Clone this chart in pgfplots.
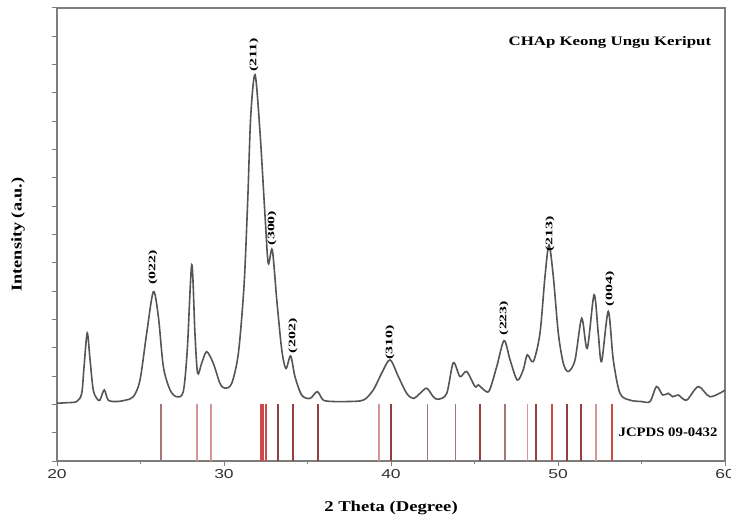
\documentclass[border=0pt]{standalone}
\usepackage{fontspec}
\setmainfont{Liberation Serif}
\newfontfamily\sansf{Liberation Sans}
\usepackage{graphicx}
\usepackage{pgfplots}
\pgfplotsset{compat=1.18}

\definecolor{axgray}{RGB}{125,125,125}
\definecolor{curvec}{RGB}{85,85,85}
\definecolor{dr}{RGB}{150,62,62}
\definecolor{rr}{RGB}{205,72,72}
\definecolor{lp}{RGB}{215,150,150}
\definecolor{gb}{RGB}{165,120,120}

\newcommand{\pk}[1]{\scalebox{1.6}[1]{\fontsize{10}{10}\selectfont\bfseries #1}}
\newcommand{\tl}[1]{\scalebox{1.35}[1]{#1}}

\begin{document}
\begin{tikzpicture}
\useasboundingbox (-57bp,-62bp) rectangle (674bp,461bp);
\begin{axis}[
  scale only axis, width=668bp, height=453bp,
  xmin=20, xmax=60, ymin=0, ymax=16,
  axis line style={axgray, line width=1.3bp},
  xtick={20,30,40,50,60},
  xticklabels={\tl{20},\tl{30},\tl{40},\tl{50},\tl{60}},
  minor xtick={25,35,45,55},
  ytick={0,1,...,16}, yticklabels={},
  tick align=outside, tick pos=left,
  major tick length=5bp, minor tick length=3bp,
  every tick/.style={axgray, line width=1bp},
  xticklabel style={font=\sansf\fontsize{13}{13}\selectfont, text=black!80},
  clip=false,
]
\addplot[curvec, line width=1.6bp, smooth, tension=0.5] coordinates {
(20,2.04) (20.6,2.06) (21.18,2.10) (21.48,2.39) (21.62,3.33) (21.81,4.52)
(21.98,3.57) (22.17,2.51) (22.4,2.2) (22.57,2.15) (22.83,2.51) (23.07,2.15)
(23.57,2.10) (24.1,2.15) (24.57,2.27) (24.97,2.86) (25.37,4.51) (25.77,5.98)
(26.07,5.10) (26.37,3.33) (26.77,2.51) (27.17,2.27) (27.56,2.45) (27.8,3.92)
(28.07,6.93) (28.26,4.51) (28.42,3.1) (28.66,3.45) (28.96,3.86) (29.36,3.45)
(29.76,2.74) (30.06,2.57) (30.46,2.74) (30.86,3.80) (31.2,6.2) (31.42,9.2)
(31.6,12.17) (31.86,13.64) (32.16,11.58) (32.46,8.63) (32.65,6.98) (32.89,7.46)
(33.16,5.69) (33.46,3.92) (33.71,3.27) (33.99,3.71) (34.25,2.98) (34.65,2.33)
(35.15,2.21) (35.59,2.45) (35.95,2.15) (36.6,2.1) (37.35,2.10) (38.34,2.15)
(38.94,2.51) (39.44,3.10) (39.94,3.57) (40.44,2.98) (40.94,2.39) (41.34,2.21)
(41.74,2.39) (42.14,2.57) (42.53,2.27) (42.83,2.18) (43.34,2.39) (43.73,3.47)
(44.13,2.98) (44.53,3.16) (45.03,2.63) (45.23,2.69) (45.63,2.48) (45.9,2.5)
(46.33,3.33) (46.77,4.25) (47.13,3.57) (47.56,2.86) (47.92,3.22) (48.16,3.75)
(48.52,3.51) (48.92,4.51) (49.22,6.51) (49.46,7.63) (49.72,6.51) (50.02,4.51)
(50.32,3.45) (50.62,3.16) (51.02,3.57) (51.42,5.04) (51.75,3.98) (52.16,5.87)
(52.41,4.51) (52.61,3.51) (53.01,5.28) (53.31,3.57) (53.71,2.39) (54.31,2.15)
(55.0,2.1) (55.51,2.10) (55.9,2.63) (56.27,2.33) (56.6,2.39) (56.87,2.27)
(57.2,2.33) (57.7,2.15) (58.4,2.63) (59.1,2.27) (60,2.50)
};
\addplot[ycomb, gb, line width=1.7bp] coordinates {(26.21,2) (42.18,2) (43.87,2) (46.83,2)};
\addplot[ycomb, lp, line width=1.7bp] coordinates {(28.37,2) (29.22,2) (39.30,2) (48.17,2) (52.26,2)};
\addplot[ycomb, rr, line width=1.9bp] coordinates {(32.22,2) (32.36,2) (32.50,2) (49.62,2) (53.22,2)};
\addplot[ycomb, dr, line width=1.8bp] coordinates {(33.25,2) (34.15,2) (35.61,2) (40.00,2) (45.33,2) (48.68,2) (50.56,2) (51.36,2)};

\node[rotate=90] at (axis cs:25.75,6.85) {\pk{(022)}};
\node[rotate=90] at (axis cs:31.80,14.34) {\pk{(211)}};
\node[rotate=90] at (axis cs:32.87,8.23) {\pk{(300)}};
\node[rotate=90] at (axis cs:34.13,4.42) {\pk{(202)}};
\node[rotate=90] at (axis cs:39.94,4.20) {\pk{(310)}};
\node[rotate=90] at (axis cs:46.77,5.05) {\pk{(223)}};
\node[rotate=90] at (axis cs:49.52,8.02) {\pk{(213)}};
\node[rotate=90] at (axis cs:53.11,6.08) {\pk{(004)}};

\node at (axis cs:53.11,14.77) {\scalebox{1.3}[1]{\fontsize{13}{13}\selectfont\bfseries CHAp Keong Ungu Keriput}};
\node at (axis cs:56.59,1.02) {\scalebox{1.14}[1]{\fontsize{13}{13}\selectfont\bfseries JCPDS 09-0432}};

\node[rotate=90] at ([xshift=-39bp]rel axis cs:0,0.5) {\scalebox{1.22}[1]{\fontsize{15}{15}\selectfont\bfseries Intensity (a.u.)}};
\node at ([yshift=-47bp]rel axis cs:0.5,0) {\scalebox{1.25}[1]{\fontsize{15}{15}\selectfont\bfseries 2 Theta (Degree)}};
\end{axis}
\end{tikzpicture}
\end{document}
